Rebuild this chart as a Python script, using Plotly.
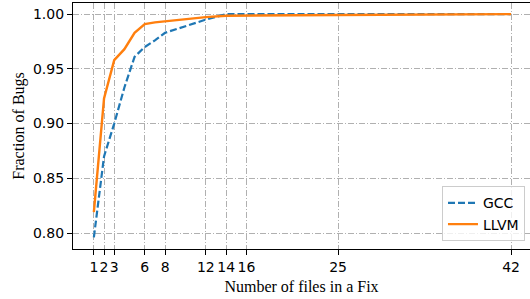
import plotly.graph_objects as go

gcc_x = [1, 2, 3, 4, 5, 6, 7, 8, 10, 12, 14, 16, 25, 42]
gcc_y = [0.796, 0.870, 0.900, 0.933, 0.961, 0.970, 0.976, 0.983, 0.989, 0.995, 1.000, 1.000, 1.000, 1.000]
llvm_x = [1, 2, 3, 4, 5, 6, 7, 8, 10, 12, 14, 16, 25, 42]
llvm_y = [0.819, 0.923, 0.958, 0.968, 0.983, 0.991, 0.9925, 0.9935, 0.9955, 0.9973, 0.9986, 0.9988, 0.9992, 1.000]
x_ticks = [1, 2, 3, 6, 8, 12, 14, 16, 25, 42]
y_ticks = [0.80, 0.85, 0.90, 0.95, 1.00]

fig = go.Figure()
fig.add_trace(go.Scatter(x=gcc_x, y=gcc_y, mode="lines", name="GCC",
                         line=dict(color="#1f77b4", width=2.2, dash="7px,3px")))
fig.add_trace(go.Scatter(x=llvm_x, y=llvm_y, mode="lines", name="LLVM",
                         line=dict(color="#ff7f0e", width=2.4)))

grid = dict(gridcolor="#b0b0b0", gridwidth=1, griddash="6px,2px,1px,2px")
fig.update_layout(
    width=530, height=299,
    margin=dict(l=73, r=0, t=3, b=50, autoexpand=False),
    plot_bgcolor="white", paper_bgcolor="white",
    font=dict(family="DejaVu Sans", size=14, color="black"),
    showlegend=True,
    legend=dict(x=0.989, y=0.031, xanchor="right", yanchor="bottom",
                bgcolor="rgba(255,255,255,0.8)", bordercolor="#cccccc", borderwidth=1,
                font=dict(family="DejaVu Sans", size=14), tracegroupgap=0),
    xaxis=dict(range=[-1.05, 43.86], tickvals=x_ticks, ticktext=[str(v) for v in x_ticks],
               tickangle=0, automargin=False,
               showline=True, linecolor="black", linewidth=1.3, mirror=True,
               ticks="outside", ticklen=5, tickcolor="black", zeroline=False,
               title=dict(text="Number of files in a Fix", standoff=6,
                          font=dict(family="Liberation Serif", size=16)),
               **grid),
    yaxis=dict(range=[0.7854, 1.0102], tickvals=y_ticks, ticktext=["%.2f" % v for v in y_ticks],
               automargin=False,
               showline=True, linecolor="black", linewidth=1.3, mirror=False,
               ticks="outside", ticklen=5, tickcolor="black", zeroline=False,
               title=dict(text="Fraction of Bugs", standoff=4,
                          font=dict(family="Liberation Serif", size=16)),
               **grid),
)
fig.write_html("out.html", config={"displayModeBar": False},
               post_script="document.body.style.margin='0';")
